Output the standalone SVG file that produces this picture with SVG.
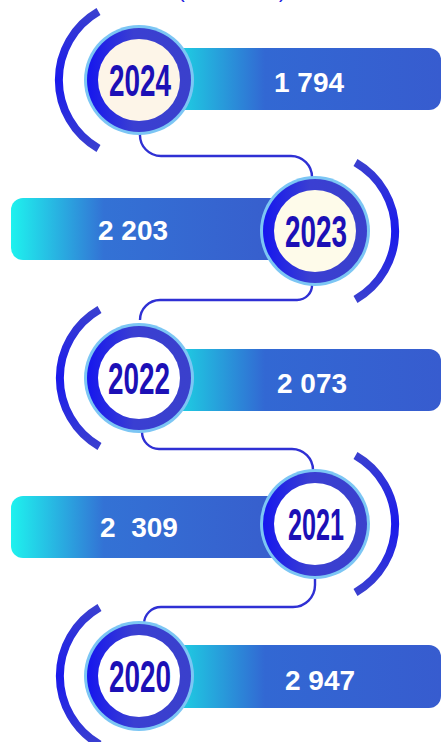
<svg xmlns="http://www.w3.org/2000/svg" width="442" height="742" viewBox="0 0 442 742">
<defs>
<linearGradient id="barR" x1="0" y1="0" x2="1" y2="0">
<stop offset="0.04" stop-color="#1ecde2"/>
<stop offset="0.35" stop-color="#3268d3"/>
<stop offset="1" stop-color="#375ccf"/>
</linearGradient>
<linearGradient id="barL" x1="0" y1="0" x2="1" y2="0">
<stop offset="0" stop-color="#1ef2ee"/>
<stop offset="0.32" stop-color="#3372d5"/>
<stop offset="1" stop-color="#385bcc"/>
</linearGradient>
<linearGradient id="ring" x1="0" y1="0" x2="1" y2="0">
<stop offset="0" stop-color="#1616ee"/>
<stop offset="0.45" stop-color="#3a3fd2"/>
<stop offset="1" stop-color="#3a40cc"/>
</linearGradient>
<linearGradient id="arcG" x1="0" y1="0" x2="0" y2="1">
<stop offset="0" stop-color="#3a3fd0"/>
<stop offset="0.5" stop-color="#1a1aec"/>
<stop offset="1" stop-color="#3a3fd0"/>
</linearGradient>
</defs>
<style>
.bar-r{fill:url(#barR)}
.bar-l{fill:url(#barL)}
.glow{fill:#7cc6f4}
.ring{fill:url(#ring)}
.arc{fill:none;stroke:url(#arcG);stroke-width:8}
.year{font-family:"Liberation Sans",Arial,sans-serif;font-weight:bold;font-size:44px;fill:#1c10b6;text-anchor:middle}
.num{font-family:"Liberation Sans",Arial,sans-serif;font-weight:bold;font-size:28px;fill:#ffffff;text-anchor:middle}
.conn{fill:none;stroke:#2f30d4;stroke-width:2.4}
.title{font-family:"Liberation Sans",Arial,sans-serif;font-size:20px;fill:#2020e0}
</style>
<rect width="442" height="742" fill="#ffffff"/>
<g id="title">
<text class="title" x="178" y="-2">(</text>
<text class="title" x="279" y="-2">)</text>
</g>
<g id="connectors">
<path class="conn" d="M140,134 A21,21 0 0 0 161,156 H291 A21,21 0 0 1 312,177"/>
<path class="conn" d="M312,284 A15,15 0 0 1 297,300 H160 A20,20 0 0 0 140,320"/>
<path class="conn" d="M142,432 A17,17 0 0 0 159,449 H292 A21,21 0 0 1 313,470"/>
<path class="conn" d="M315,578 V585 A22,22 0 0 1 293,607 H161 A17,17 0 0 0 144,624"/>
</g>
<g id="node-2024">
<path class="arc" d="M98.5,11.5 A79,79 0 0 0 98.5,148.5"/>
<rect class="bar-r" x="170" y="48" width="271" height="62" rx="12"/>
<circle class="glow" cx="139" cy="80" r="55"/>
<circle class="ring" cx="139" cy="80" r="52"/>
<circle cx="139" cy="80" r="41" fill="#fdf5e8"/>
<text class="year" x="140" y="96" textLength="62" lengthAdjust="spacingAndGlyphs">2024</text>
<text class="num" x="309" y="92">1 794</text>
</g>
<g id="node-2023">
<path class="arc" d="M355.5,162.5 A79,79 0 0 1 355.5,299.5"/>
<rect class="bar-l" x="11" y="198" width="290" height="62" rx="12"/>
<circle class="glow" cx="315" cy="231" r="55"/>
<circle class="ring" cx="315" cy="231" r="52"/>
<circle cx="315" cy="231" r="41" fill="#fefbea"/>
<text class="year" x="316" y="247" textLength="62" lengthAdjust="spacingAndGlyphs">2023</text>
<text class="num" x="133" y="240">2 203</text>
</g>
<g id="node-2022">
<path class="arc" d="M99.5,309.5 A79,79 0 0 0 99.5,446.5"/>
<rect class="bar-r" x="170" y="349" width="271" height="62" rx="12"/>
<circle class="glow" cx="139" cy="378" r="55"/>
<circle class="ring" cx="139" cy="378" r="52"/>
<circle cx="139" cy="378" r="41" fill="#ffffff"/>
<text class="year" x="139" y="394" textLength="62" lengthAdjust="spacingAndGlyphs">2022</text>
<text class="num" x="312" y="393">2 073</text>
</g>
<g id="node-2021">
<path class="arc" d="M355.5,455.5 A79,79 0 0 1 355.5,592.5"/>
<rect class="bar-l" x="11" y="496" width="290" height="62" rx="12"/>
<circle class="glow" cx="315" cy="524" r="55"/>
<circle class="ring" cx="315" cy="524" r="52"/>
<circle cx="315" cy="524" r="41" fill="#ffffff"/>
<text class="year" x="316" y="540" textLength="56" lengthAdjust="spacingAndGlyphs">2021</text>
<text class="num" x="139" y="537" xml:space="preserve">2  309</text>
</g>
<g id="node-2020">
<path class="arc" d="M99.5,607.5 A79,79 0 0 0 99.5,744.5"/>
<rect class="bar-r" x="170" y="645" width="271" height="63" rx="12"/>
<circle class="glow" cx="139" cy="676" r="55"/>
<circle class="ring" cx="139" cy="676" r="52"/>
<circle cx="139" cy="676" r="41" fill="#ffffff"/>
<text class="year" x="140" y="692" textLength="62" lengthAdjust="spacingAndGlyphs">2020</text>
<text class="num" x="320" y="690">2 947</text>
</g>
</svg>
